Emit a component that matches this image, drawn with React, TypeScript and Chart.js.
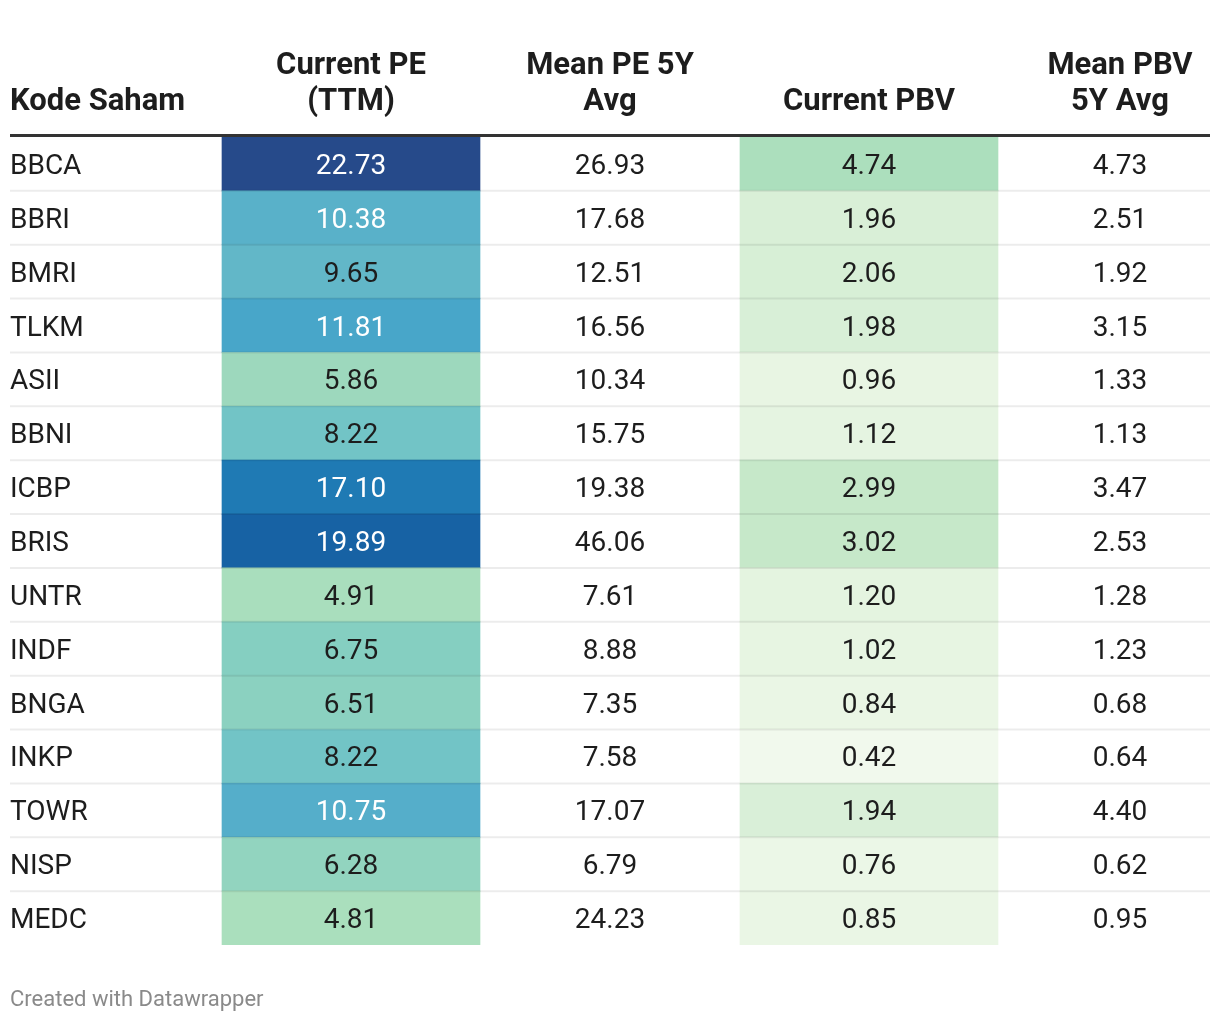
import React, { useEffect, useRef } from "react";
import { Chart, registerables } from "chart.js";

Chart.register(...registerables);

// ---------------- data ----------------
const codes = ["BBCA", "BBRI", "BMRI", "TLKM", "ASII", "BBNI", "ICBP", "BRIS", "UNTR", "INDF", "BNGA", "INKP", "TOWR", "NISP", "MEDC"];
const currentPE = [22.73, 10.38, 9.65, 11.81, 5.86, 8.22, 17.1, 19.89, 4.91, 6.75, 6.51, 8.22, 10.75, 6.28, 4.81];
const meanPE5Y = [26.93, 17.68, 12.51, 16.56, 10.34, 15.75, 19.38, 46.06, 7.61, 8.88, 7.35, 7.58, 17.07, 6.79, 24.23];
const currentPBV = [4.74, 1.96, 2.06, 1.98, 0.96, 1.12, 2.99, 3.02, 1.2, 1.02, 0.84, 0.42, 1.94, 0.76, 0.85];
const meanPBV5Y = [4.73, 2.51, 1.92, 3.15, 1.33, 1.13, 3.47, 2.53, 1.28, 1.23, 0.68, 0.64, 4.4, 0.62, 0.95];
const headers = [["Kode Saham"], ["Current PE", "(TTM)"], ["Mean PE 5Y", "Avg"], ["Current PBV"], ["Mean PBV", "5Y Avg"]];
const footerText = "Created with Datawrapper";

// ---------------- layout / style ----------------
const COL_EDGES = [0, 212, 470, 730, 988, 1200];
const COL_TEXT_CENTER = [0, 341, 600, 859, 1110];
const FONT = "Roboto, 'Noto Sans', sans-serif";
const TEXT_DARK = "#1d1d1d";

const PE_STOPS: [number, string][] = [
  [4.81, "#aadfbd"],
  [5.86, "#9dd8bd"],
  [6.75, "#85cfc1"],
  [8.22, "#72c4c6"],
  [9.65, "#62b7c8"],
  [10.75, "#55aeca"],
  [11.81, "#48a6c9"],
  [17.1, "#1f7ab4"],
  [19.89, "#1762a4"],
  [22.73, "#264a8a"],
];
const PBV_STOPS: [number, string][] = [
  [0.42, "#f1f9ed"],
  [1.0, "#e7f5e2"],
  [2.0, "#d8efd7"],
  [3.0, "#c6e8c9"],
  [4.74, "#acdfbd"],
];
const PE_WHITE_TEXT_FROM = 10;

function hexToRgb(h: string) {
  const n = parseInt(h.slice(1), 16);
  return [(n >> 16) & 255, (n >> 8) & 255, n & 255];
}
function scaleColor(v: number, stops: [number, string][]) {
  if (v <= stops[0][0]) return stops[0][1];
  if (v >= stops[stops.length - 1][0]) return stops[stops.length - 1][1];
  for (let i = 0; i < stops.length - 1; i++) {
    const [a, ca] = stops[i];
    const [b, cb] = stops[i + 1];
    if (v >= a && v <= b) {
      const t = (v - a) / (b - a);
      const A = hexToRgb(ca);
      const B = hexToRgb(cb);
      const c = A.map((x, k) => Math.round(x + (B[k] - x) * t));
      return `rgb(${c[0]},${c[1]},${c[2]})`;
    }
  }
  return stops[0][1];
}

const tablePlugin = {
  id: "tableText",
  afterDatasetsDraw(chart: any) {
    const { ctx, chartArea, scales } = chart;
    const xs = scales.x;
    const ys = scales.y;
    const n = codes.length;
    ctx.save();

    // row separators
    ctx.strokeStyle = "rgba(0,0,0,0.075)";
    ctx.lineWidth = 2;
    for (let i = 1; i < n; i++) {
      const y = (ys.getPixelForValue(i - 1) + ys.getPixelForValue(i)) / 2;
      ctx.beginPath();
      ctx.moveTo(chartArea.left, y);
      ctx.lineTo(chartArea.right, y);
      ctx.stroke();
    }

    // header rule
    ctx.strokeStyle = "#333333";
    ctx.lineWidth = 3;
    ctx.beginPath();
    ctx.moveTo(chartArea.left, chartArea.top - 1.5);
    ctx.lineTo(chartArea.right, chartArea.top - 1.5);
    ctx.stroke();

    // headers
    ctx.fillStyle = TEXT_DARK;
    ctx.font = `bold 31px ${FONT}`;
    ctx.textBaseline = "alphabetic";
    headers.forEach((lines, c) => {
      const x = c === 0 ? xs.getPixelForValue(COL_EDGES[0]) : xs.getPixelForValue(COL_TEXT_CENTER[c]);
      ctx.textAlign = c === 0 ? "left" : "center";
      lines.forEach((line, li) => {
        const y = chartArea.top - 27 - (lines.length - 1 - li) * 36;
        ctx.fillText(line, x, y);
      });
    });

    // cells
    ctx.font = `28px ${FONT}`;
    const cols = [currentPE, meanPE5Y, currentPBV, meanPBV5Y];
    for (let i = 0; i < n; i++) {
      const y = ys.getPixelForValue(i) + 10;
      ctx.textAlign = "left";
      ctx.fillStyle = TEXT_DARK;
      ctx.fillText(codes[i], xs.getPixelForValue(COL_EDGES[0]), y);
      ctx.textAlign = "center";
      cols.forEach((arr, k) => {
        const c = k + 1;
        ctx.fillStyle = c === 1 && arr[i] >= PE_WHITE_TEXT_FROM ? "#ffffff" : TEXT_DARK;
        ctx.fillText(arr[i].toFixed(2), xs.getPixelForValue(COL_TEXT_CENTER[c]), y);
      });
    }

    // footer
    ctx.textAlign = "left";
    ctx.fillStyle = "#8a8a8a";
    ctx.font = `22px ${FONT}`;
    ctx.fillText(footerText, xs.getPixelForValue(COL_EDGES[0]), chartArea.bottom + 61);
    ctx.restore();
  },
};

export default function App() {
  const ref = useRef<HTMLCanvasElement | null>(null);
  useEffect(() => {
    document.body.style.margin = "0";
    const canvas = ref.current;
    if (!canvas) return;
    const chart = new Chart(canvas, {
      type: "bar",
      data: {
        labels: codes,
        datasets: [
          {
            label: "Current PE",
            data: codes.map(() => [COL_EDGES[1], COL_EDGES[2]]) as any,
            backgroundColor: currentPE.map((v) => scaleColor(v, PE_STOPS)),
            borderWidth: 0,
            barPercentage: 1,
            categoryPercentage: 1,
            grouped: false,
          } as any,
          {
            label: "Current PBV",
            data: codes.map(() => [COL_EDGES[3], COL_EDGES[4]]) as any,
            backgroundColor: currentPBV.map((v) => scaleColor(v, PBV_STOPS)),
            borderWidth: 0,
            barPercentage: 1,
            categoryPercentage: 1,
            grouped: false,
          } as any,
        ],
      },
      options: {
        indexAxis: "y",
        animation: false,
        responsive: true,
        maintainAspectRatio: false,
        layout: { padding: { left: 10, right: 10, top: 137, bottom: 77 } },
        scales: {
          x: { type: "linear", min: COL_EDGES[0], max: COL_EDGES[5], display: false },
          y: { type: "category", display: false, offset: true },
        },
        plugins: { legend: { display: false }, tooltip: { enabled: false }, title: { display: false } },
      },
      plugins: [tablePlugin],
    });
    return () => chart.destroy();
  }, []);
  return (
    <div style={{ width: 1220, height: 1022, position: "relative", background: "#ffffff" }}>
      <canvas ref={ref} />
    </div>
  );
}
